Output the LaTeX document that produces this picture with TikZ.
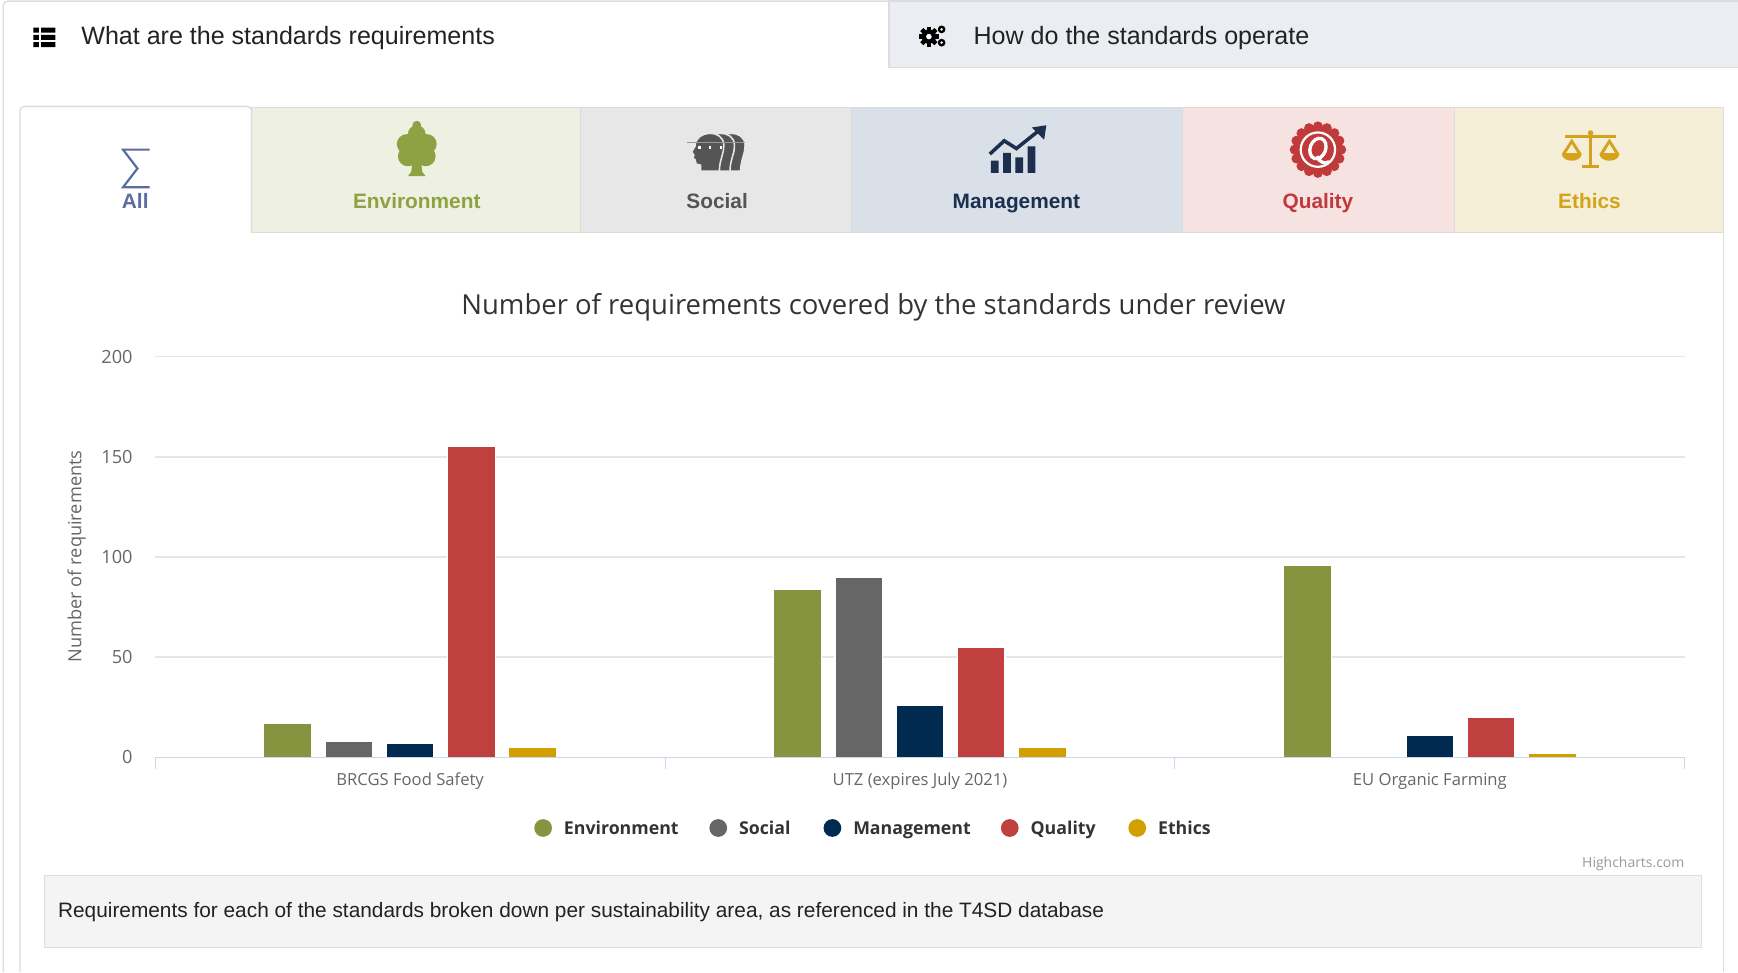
\documentclass[tikz,border=0pt]{standalone}
\usepackage{fontspec}
\setmainfont{Liberation Sans}
\newfontfamily\chartfont{Open Sans}
\usetikzlibrary{positioning}
\definecolor{tabgrey}{HTML}{DCDCDC}
\definecolor{tabtwo}{HTML}{EAEDF2}
\definecolor{headblack}{HTML}{222222}
\definecolor{alltext}{HTML}{5A6D9F}
\definecolor{envfill}{HTML}{EEF0E2}
\definecolor{envtext}{HTML}{8EA244}
\definecolor{socfill}{HTML}{E7E7E7}
\definecolor{soctext}{HTML}{555555}
\definecolor{mgmtfill}{HTML}{D9E0E8}
\definecolor{mgmttext}{HTML}{1C2F4F}
\definecolor{qualfill}{HTML}{F5E2E1}
\definecolor{qualtext}{HTML}{C0393B}
\definecolor{ethfill}{HTML}{F6EFD7}
\definecolor{ethtext}{HTML}{D4A21B}
\definecolor{envbar}{HTML}{87943F}
\definecolor{socbar}{HTML}{666666}
\definecolor{mgmtbar}{HTML}{012A50}
\definecolor{qualbar}{HTML}{C0403F}
\definecolor{ethbar}{HTML}{D39F00}
\definecolor{gridgrey}{HTML}{E6E6E6}
\definecolor{axisblue}{HTML}{CCD6EB}
\definecolor{labelgrey}{HTML}{666666}
\definecolor{titlegrey}{HTML}{333333}
\definecolor{creditgrey}{HTML}{999999}
\definecolor{boxfill}{HTML}{F4F4F4}
\definecolor{boxline}{HTML}{DDDDDD}
\tikzset{
  tabline/.style={draw=tabgrey, line width=0.6pt},
  headtext/.style={anchor=base west, inner sep=0pt, text=headblack, font=\fontsize{11.3}{13}\selectfont},
  tablabel/.style={anchor=base, inner sep=0pt, font=\bfseries\fontsize{9.4}{11}\selectfont},
  gridline/.style={draw=gridgrey, line width=0.5pt},
  axisline/.style={draw=axisblue, line width=0.5pt},
  ticklabel/.style={anchor=east, inner sep=0pt, text=labelgrey, font=\chartfont\fontsize{8.2}{10}\selectfont},
  catlabel/.style={inner sep=0pt, text=labelgrey, font=\chartfont\fontsize{7.5}{9}\selectfont},
  legenddot/.style={circle, inner sep=0pt, minimum size=8pt},
  legendtext/.style={inner sep=0pt, text=titlegrey, font=\chartfont\bfseries\fontsize{8}{10}\selectfont},
  bar/.style={draw=white, line width=0.5pt},
}
\begin{document}
\begin{tikzpicture}[x=0.5pt,y=-0.5pt]
	\useasboundingbox (0,0) rectangle (1568,877);
	\fill[tabtwo] (802,1) rectangle (1568,61);
	\draw[tabline] (802,61) -- (802,1) -- (1568,1) (802,61) -- (1568,61);
	\draw[tabline, rounded corners=2pt] (3,877) -- (3,1) -- (802,1);
	\foreach \y in {25,31.5,38} \fill[black] (30,\y) rectangle (35,\y+4.5) (37,\y) rectangle (50,\y+4.5);
	\node[headtext] (req) at (73,40) {What are the standards requirements};
	\foreach \a in {0,45,90,135} \fill[black, rotate around={\a:(838,33)}] (836,24) rectangle (840,42);
	\fill[black] (838,33) circle (6.5);
	\fill[white] (838,33) circle (2.5);
	\fill[black] (849.5,26.5) circle (3.5) (849.5,38.5) circle (3.5);
	\fill[white] (849.5,26.5) circle (1.3) (849.5,38.5) circle (1.3);
	\node[headtext] (ops) at (878,40) {How do the standards operate};
	\draw[tabline, fill=envfill] (227,210) rectangle (524,97);
	\draw[tabline, fill=socfill] (524,210) rectangle (768,97);
	\draw[tabline, fill=mgmtfill] (768,210) rectangle (1067,97);
	\draw[tabline, fill=qualfill] (1067,210) rectangle (1312,97);
	\draw[tabline, fill=ethfill] (1312,210) rectangle (1555,97);
	\draw[tabline, rounded corners=2pt] (18,877) -- (18,96) -- (227,96) -- (227,210);
	\draw[tabline] (1555,97) -- (1555,877);
	\draw[alltext, line width=1pt, line join=miter] (135,135) -- (111,135) -- (124,152) -- (111,169) -- (135,169);
	\node[tablabel, text=alltext] (all) at (122,188) {All};
	\fill[envtext] (376,113) circle (4) (376,121) circle (8) (367,130) circle (9) (385,130) circle (9)
		(368,141) circle (9) (384,141) circle (9) (376,137) circle (12);
	\fill[envtext] (372,147) -- (380,147) -- (381,155) -- (384,159) -- (368,159) -- (371,155) -- cycle;
	\node[tablabel, text=envtext] (env) at (376,188) {Environment};
	\foreach \x in {643.2,633.6,624}
		\fill[soctext, draw=socfill, line width=0.7pt] (\x+8,154.5) -- (\x+8,149) -- (\x+4,148) -- (\x+3,144) -- (\x+1,143) -- (\x+2,140) -- (\x,137) -- (\x+3,132)
			.. controls (\x+3,117) and (\x+29,116) .. (\x+29,131) .. controls (\x+29,140) and (\x+25,144) .. (\x+25,154.5) -- cycle;
	\foreach \x in {631,640.5,650.5} \fill[white] (\x-1,132) rectangle (\x+1,134.5);
	\draw[black!40, line width=0.6pt] (620,128.5) -- (672,128.5);
	\node[tablabel, text=soctext] (soc) at (647,188) {Social};
	\fill[mgmttext] (894,145) rectangle (901,156) (905,138) rectangle (912,156) (916,142) rectangle (923,156) (927,132) rectangle (934,156);
	\draw[mgmttext, line width=1.6pt] (893,139) -- (906,127) -- (917,134) -- (937,118);
	\fill[mgmttext] (944,113) -- (931,115) -- (942,126) -- cycle;
	\node[tablabel, text=mgmttext] (mgmt) at (917,188) {Management};
	\fill[qualtext] (1189,135) circle (21);
	\foreach \a in {0,22.5,...,337.5} \fill[qualtext] (1189,135) ++(\a:21) circle (4.5);
	\draw[white, line width=1pt] (1189,135) circle (15.5);
	\draw[white, line width=1.5pt, rotate around={-20:(1189,134)}] (1189,134) ellipse (7 and 9.5);
	\draw[white, line width=1.5pt] (1188,141) .. controls (1191,147) and (1195,148) .. (1199,146);
	\node[tablabel, text=qualtext] (qual) at (1189,188) {Quality};
	\draw[ethtext, line width=1.2pt] (1412,123) -- (1458,123) (1435,120) -- (1435,150) (1427,150) -- (1443,150);
	\fill[ethtext] (1435,120) circle (2.5);
	\fill[ethtext] (1418,125) -- (1409,139) .. controls (1410,147) and (1426,147) .. (1427,139) -- cycle;
	\fill[ethtext] (1452,125) -- (1443,139) .. controls (1444,147) and (1460,147) .. (1461,139) -- cycle;
	\fill[ethfill] (1418,130) -- (1413,138) -- (1423,138) -- cycle (1452,130) -- (1447,138) -- (1457,138) -- cycle;
	\node[tablabel, text=ethtext] (eth) at (1434,188) {Ethics};
	\node[text=titlegrey, font=\chartfont\fontsize{12.4}{15}\selectfont] (title) at (788,277) {Number of requirements covered by the standards under review};
	\foreach \t in {0,50,...,200} {
		\draw[gridline] (140,{683-1.805*\t}) -- (1520,{683-1.805*\t});
		\node[ticklabel] (tick\t) at (120,{683-1.805*\t}) {\t};
	}
	\node[rotate=90, text=labelgrey, font=\chartfont\fontsize{8.2}{10}\selectfont] (ytitle) at (69,502) {Number of requirements};
	\foreach \col/\a/\b/\c [count=\s from 0] in {envbar/17/84/96, socbar/8/90/0, mgmtbar/7/26/11, qualbar/155/55/20, ethbar/5/5/2}
		\foreach \v [count=\k from 0] in {\a,\b,\c}
			\path[bar, fill=\col] ({348.5+460*\k+55.2*(\s-2)},683) rectangle ++(43,{-1.805*\v});
	\draw[axisline] (140,683) -- (1520,683);
	\foreach \x in {140,600,1060,1520} \draw[axisline] (\x,683) -- (\x,694);
	\node[catlabel] (brcgs) at (370,705) {BRCGS Food Safety};
	\node[catlabel] (utz) at (830,705) {UTZ (expires July 2021)};
	\node[catlabel] (eu) at (1290,705) {EU Organic Farming};
	\node[legenddot, fill=envbar] (denv) at (490,747) {};
	\node[legendtext, base right=5pt of denv, yshift=-2.9pt] (lenv) {Environment};
	\node[legenddot, fill=socbar] (dsoc) at (648,747) {};
	\node[legendtext, base right=5pt of dsoc, yshift=-2.9pt] (lsoc) {Social};
	\node[legenddot, fill=mgmtbar] (dmgmt) at (751,747) {};
	\node[legendtext, base right=5pt of dmgmt, yshift=-2.9pt] (lmgmt) {Management};
	\node[legenddot, fill=qualbar] (dqual) at (911,747) {};
	\node[legendtext, base right=5pt of dqual, yshift=-2.9pt] (lqual) {Quality};
	\node[legenddot, fill=ethbar] (deth) at (1026,747) {};
	\node[legendtext, base right=5pt of deth, yshift=-2.9pt] (leth) {Ethics};
	\node[anchor=east, inner sep=0pt, text=creditgrey, font=\chartfont\fontsize{6.3}{8}\selectfont] (credit) at (1520,779) {Highcharts.com};
	\draw[boxline, fill=boxfill] (40,790) rectangle (1535,855);
	\node[anchor=base west, inner sep=0pt, text=headblack, font=\fontsize{9.4}{11}\selectfont] (caption) at (52,828) {Requirements for each of the standards broken down per sustainability area, as referenced in the T4SD database};
\end{tikzpicture}
\end{document}
